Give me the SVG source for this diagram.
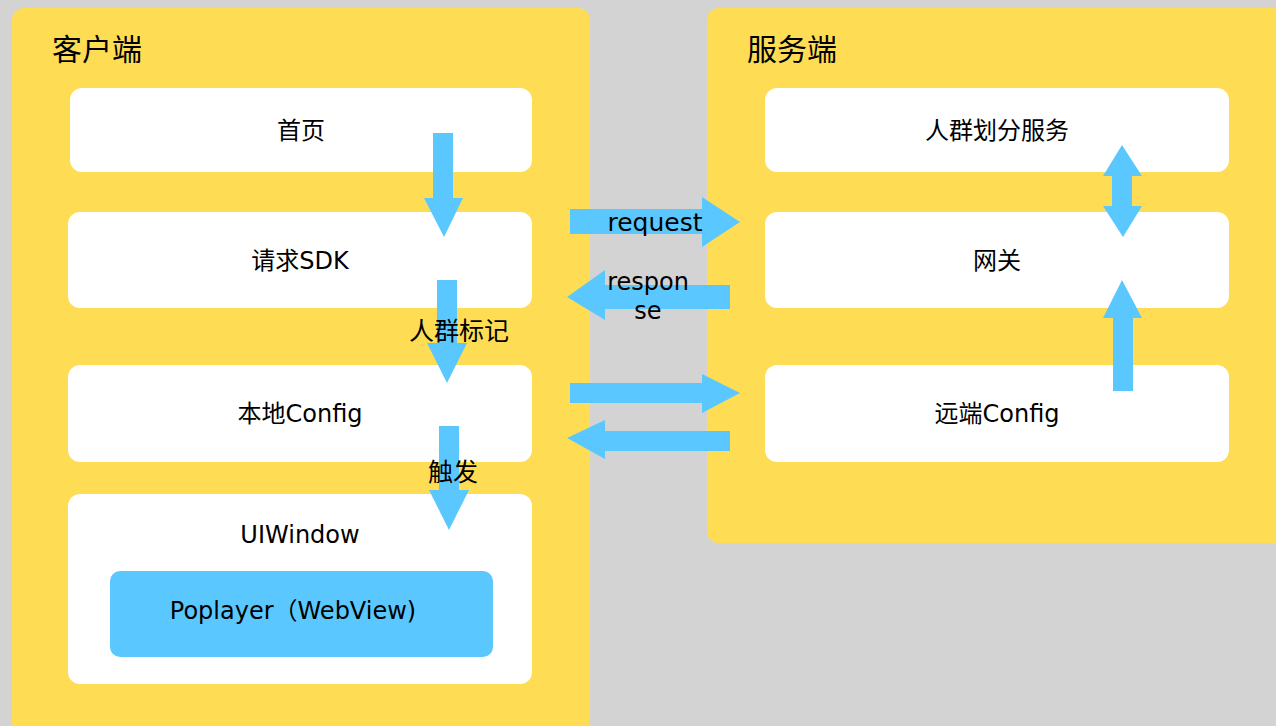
<svg xmlns="http://www.w3.org/2000/svg" width="1276" height="726" viewBox="0 0 1276 726">
<style>
.panel{fill:#fedd55}
.box{fill:#ffffff}
.blue{fill:#5ac8fe}
.arr{fill:#5ac8fe}
text{font-family:"DejaVu Sans","Noto Sans CJK SC",sans-serif;fill:#000}
.title{font-size:30px}
.lbl{font-size:24px;text-anchor:middle}
.alb{font-size:25px;text-anchor:middle}
.rsp{font-size:24px;text-anchor:middle}
</style>
<rect x="0" y="0" width="1276" height="726" fill="#d3d3d3"/>
<g id="client-panel">
<rect class="panel" x="12" y="8" width="578" height="740" rx="12"/>
<text class="title" x="52" y="60">客户端</text>
</g>
<g id="server-panel">
<rect class="panel" x="707" y="8" width="590" height="535" rx="12"/>
<text class="title" x="747" y="60">服务端</text>
</g>
<g id="node-home">
<rect class="box" x="70" y="88" width="462" height="84" rx="12"/>
<text class="lbl" x="301" y="139">首页</text>
</g>
<g id="node-sdk">
<rect class="box" x="68" y="212" width="464" height="96" rx="12"/>
<text class="lbl" x="300" y="269">请求SDK</text>
</g>
<g id="node-local-config">
<rect class="box" x="68" y="365" width="464" height="97" rx="12"/>
<text class="lbl" x="300" y="422">本地Config</text>
</g>
<g id="node-uiwindow">
<rect class="box" x="68" y="494" width="464" height="190" rx="12"/>
<text class="lbl" x="300" y="543">UIWindow</text>
</g>
<g id="node-poplayer">
<rect class="blue" x="110" y="571" width="383" height="86" rx="10"/>
<text class="lbl" x="293" y="619">Poplayer（WebView)</text>
</g>
<g id="node-crowd">
<rect class="box" x="765" y="88" width="464" height="84" rx="12"/>
<text class="lbl" x="997" y="139">人群划分服务</text>
</g>
<g id="node-gateway">
<rect class="box" x="765" y="212" width="464" height="96" rx="12"/>
<text class="lbl" x="997" y="269">网关</text>
</g>
<g id="node-remote-config">
<rect class="box" x="765" y="365" width="464" height="97" rx="12"/>
<text class="lbl" x="997" y="422">远端Config</text>
</g>
<g id="connectors">
<polygon class="arr" points="433,133 453,133 453,198 463,198 444,237 424,198 433,198"/>
<polygon class="arr" points="437,280 457,280 457,343 467,343 447,383 427,343 437,343"/>
<polygon class="arr" points="439,426 459,426 459,490 469,490 449,530 429,490 439,490"/>
<polygon class="arr" points="570,209 702,209 702,197 740,222 702,247 702,234 570,234"/>
<polygon class="arr" points="730,285 605,285 605,270 567,297 605,320 605,309 730,309"/>
<polygon class="arr" points="570,383 702,383 702,374 740,393 702,413 702,403 570,403"/>
<polygon class="arr" points="730,431 605,431 605,420 567,438 605,459 605,451 730,451"/>
<polygon class="arr" points="1122,145 1142,176 1132,176 1132,206 1142,206 1123,237 1103,206 1112,206 1112,176 1103,176"/>
<polygon class="arr" points="1122,280 1142,318 1133,318 1133,391 1113,391 1113,318 1103,318"/>
<text class="alb" x="655" y="231">request</text>
<text class="rsp" x="648" y="290">respon</text>
<text class="rsp" x="648" y="319">se</text>
<text class="alb" x="459" y="340">人群标记</text>
<text class="alb" x="453" y="481">触发</text>
</g>
</svg>
